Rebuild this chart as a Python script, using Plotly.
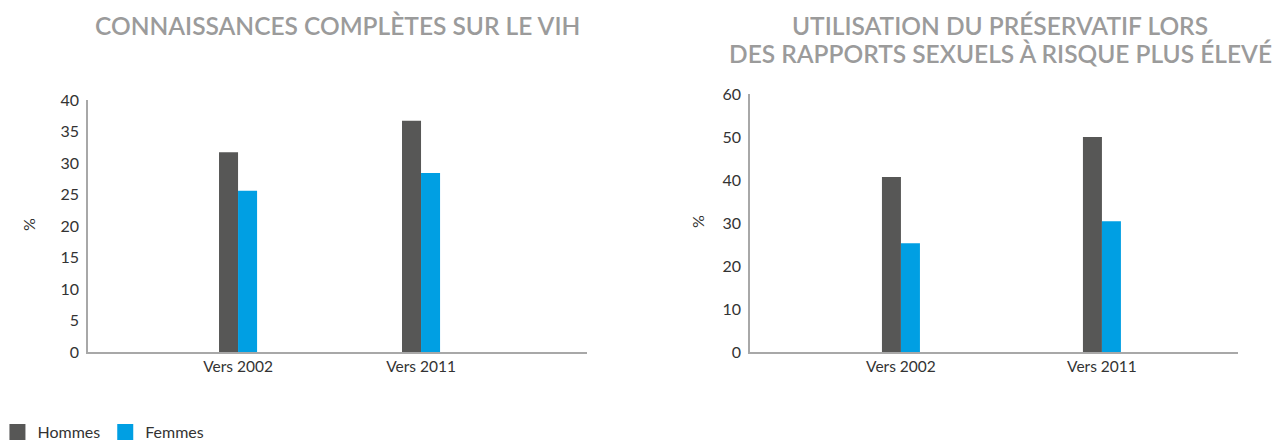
import plotly.graph_objects as go

# Periods shown on both panels
periods = ["Vers 2002", "Vers 2011"]

# Panel 1: comprehensive HIV knowledge (%)
knowledge_men = [31.7, 36.7]
knowledge_women = [25.6, 28.4]

# Panel 2: condom use during higher-risk sex (%)
condom_men = [40.7, 50.0]
condom_women = [25.3, 30.4]

series_names = ["Hommes", "Femmes"]
colors = ["#575756", "#009fe3"]

W, H = 1279, 442
FONT = "Lato"


def px_x(p):
    return p / W


def px_y(p):
    return 1 - p / H


fig = go.Figure()

panels = [
    ("x", "y", knowledge_men, knowledge_women, 0.104),
    ("x2", "y2", condom_men, condom_women, 0.0945),
]
for xa, ya, men, women, w in panels:
    for name, vals, col, off in [
        (series_names[0], men, colors[0], -w),
        (series_names[1], women, colors[1], 0.0),
    ]:
        fig.add_trace(go.Bar(
            x=periods, y=vals, name=name, legendgroup=name,
            marker_color=col, marker_line_width=0, width=w, offset=off,
            xaxis=xa, yaxis=ya, showlegend=False, hoverinfo="x+y+name",
        ))

# Legend entries with larger square swatches
for name, col in zip(series_names, colors):
    fig.add_trace(go.Scatter(
        x=[None], y=[None], mode="markers", name=name, legendgroup=name,
        marker=dict(symbol="square", size=16, color=col),
        xaxis="x", yaxis="y", showlegend=True,
    ))

axis_line = dict(showline=True, linecolor="#a8a8a8", linewidth=1.5,
                 showgrid=False, zeroline=False, ticks="", fixedrange=True)

fig.update_layout(
    width=W, height=H,
    margin=dict(l=0, r=0, t=0, b=0, autoexpand=False),
    paper_bgcolor="white", plot_bgcolor="white",
    barmode="overlay",
    font=dict(family=FONT, color="#333333"),
    xaxis=dict(domain=[px_x(88), px_x(587)], type="category",
               range=[-0.82, 1.907], anchor="y",
               tickfont=dict(size=15.5, color="#333333"), **axis_line),
    yaxis=dict(domain=[px_y(352), px_y(100)], range=[0, 40], dtick=5,
               anchor="x", tickfont=dict(size=16, color="#333333"),
               ticklabelstandoff=4, **axis_line),
    xaxis2=dict(domain=[px_x(750), px_x(1238)], type="category",
                range=[-0.751, 1.677], anchor="y2",
                tickfont=dict(size=15.5, color="#333333"), **axis_line),
    yaxis2=dict(domain=[px_y(352), px_y(94)], range=[0, 60], dtick=10,
                anchor="x2", tickfont=dict(size=16, color="#333333"),
                ticklabelstandoff=4, **axis_line),
    legend=dict(orientation="h", x=-0.002, xanchor="left",
                y=px_y(432), yanchor="middle",
                font=dict(size=16, color="#333333"),
                itemsizing="trace", traceorder="normal"),
)

title_font = dict(family=FONT, size=24.5, color="#9b9b9b", weight=600)
titles = [
    ("CONNAISSANCES COMPLÈTES SUR LE VIH", 337.5, 25),
    ("UTILISATION DU PRÉSERVATIF LORS", 1000, 25),
    ("DES RAPPORTS SEXUELS À RISQUE PLUS ÉLEVÉ", 1000, 53),
]
for text, cx, cy in titles:
    fig.add_annotation(text=text, xref="paper", yref="paper",
                       x=px_x(cx), y=px_y(cy), xanchor="center",
                       yanchor="middle", showarrow=False, font=title_font)

for cx, cy in [(28, 225), (697, 222)]:
    fig.add_annotation(text="%", xref="paper", yref="paper",
                       x=px_x(cx), y=px_y(cy), xanchor="center",
                       yanchor="middle", showarrow=False, textangle=-90,
                       font=dict(family=FONT, size=16, color="#333333"))

fig.write_html("out.html")
